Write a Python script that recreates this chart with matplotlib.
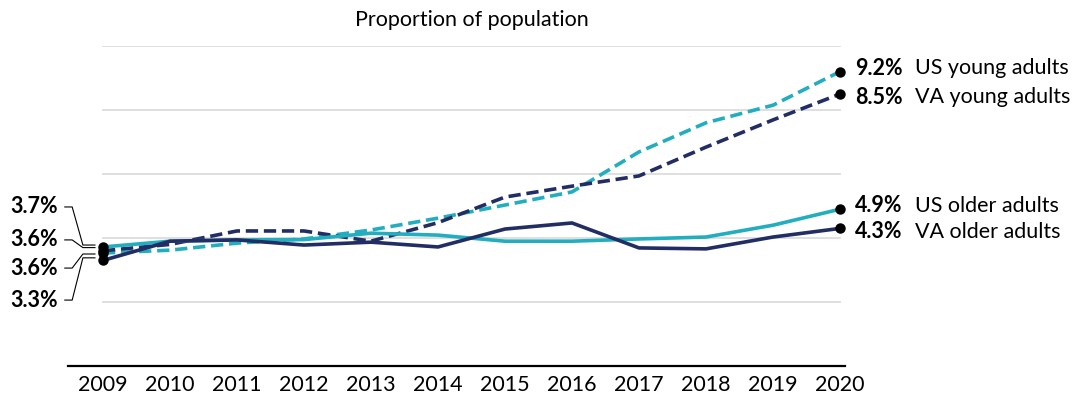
import matplotlib
matplotlib.use("Agg")
import matplotlib.pyplot as plt

years = list(range(2009, 2021))
va_older = [3.3, 3.9, 3.94, 3.78, 3.87, 3.72, 4.28, 4.47, 3.69, 3.66, 4.03, 4.3]
us_older = [3.72, 3.9, 3.94, 3.95, 4.15, 4.09, 3.9, 3.9, 3.97, 4.03, 4.4, 4.9]
va_young = [3.6, 3.8, 4.22, 4.22, 3.9, 4.48, 5.28, 5.62, 5.94, 6.84, 7.69, 8.5]
us_young = [3.53, 3.62, 3.84, 3.97, 4.25, 4.62, 5.03, 5.44, 6.69, 7.6, 8.15, 9.2]

start_labels = ["3.7%", "3.6%", "3.6%", "3.3%"]
end_values = ["9.2%", "8.5%", "4.9%", "4.3%"]
end_names = ["US young adults", "VA young adults", "US older adults", "VA older adults"]
gridlines = [2, 4, 6, 8, 10]
title = "Proportion of population"

NAVY = "#222d63"
TEAL = "#22aebf"
FONT = "Lato"
FS = 15.5

fig = plt.figure(figsize=(10.76, 4.09), dpi=100)
ax = fig.add_axes([36 / 1076, 43 / 409, 871 / 1076, 320 / 409])
ax.set_xlim(2008, 2021)
ax.set_ylim(0, 10)
ax.axis("off")

for g in gridlines:
    ax.plot([years[0], years[-1]], [g, g], color="#d9d9d9", lw=1.2, zorder=1)
ax.plot([2008.48, 2020.08], [0, 0], color="black", lw=1.6, clip_on=False, zorder=2)

dash = (0, (3.4, 1.6))
series = [
    (us_young, TEAL, dash),
    (va_young, NAVY, dash),
    (us_older, TEAL, "-"),
    (va_older, NAVY, "-"),
]
for vals, c, ls in series:
    ax.plot(years, vals, color=c, lw=2.6, linestyle=ls, zorder=3, clip_on=False,
            solid_capstyle="butt")
    ax.plot([years[0], years[-1]], [vals[0], vals[-1]], "o", color="black",
            ms=6.5, zorder=5, clip_on=False)

# end labels
end_series = [us_young, va_young, us_older, va_older]
end_label_y = [9.3, 8.4, 5.0, 4.2]
for vals, ly, v, n in zip(end_series, end_label_y, end_values, end_names):
    ax.text(2020.22, ly, v, fontsize=FS, fontweight="bold", family=FONT,
            va="center", ha="left")
    ax.text(2021.12, ly, n, fontsize=FS, family=FONT, va="center", ha="left")

# start labels with connectors (ordered top to bottom)
start_series = [us_older, va_young, us_young, va_older]
label_y = [4.97, 3.94, 3.06, 2.06]
join_y = [3.78, 3.7, 3.5, 3.38]
for vals, ly, jy, t in zip(start_series, label_y, join_y, start_labels):
    ax.text(2008.33, ly, t, fontsize=FS, fontweight="bold", family=FONT,
            va="center", ha="right")
    ax.plot([2008.43, 2008.54, 2008.7, 2008.88], [ly, ly, jy, jy],
            color="black", lw=0.8, clip_on=False, zorder=2)

ax.text((years[0] + years[-1]) / 2, 10.8, title, fontsize=FS,
        family=FONT, ha="center", va="center")

for yr in years:
    ax.text(yr, -0.6, str(yr), fontsize=FS, family=FONT, ha="center", va="center")

fig.savefig("out.png", dpi=100)
